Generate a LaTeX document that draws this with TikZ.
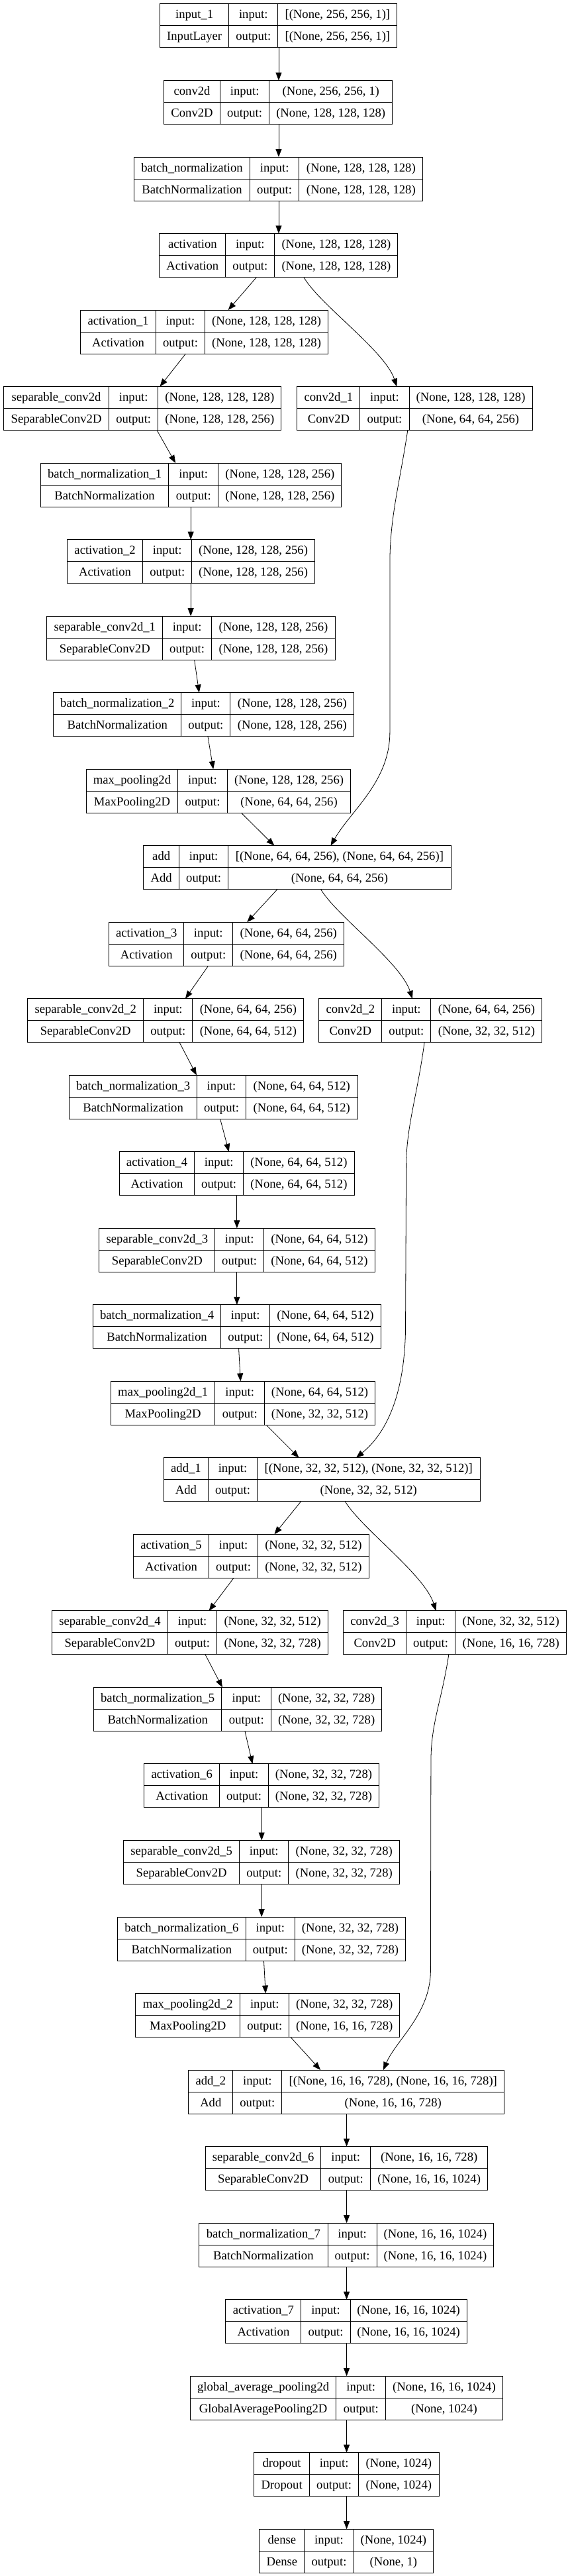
\documentclass[tikz,border=0pt]{standalone}
\usepackage{fontspec}
\setmainfont{Liberation Serif}
\usetikzlibrary{arrows.meta,fit}
\tikzset{
 kframe/.style={draw, line width=1pt, inner sep=0pt, outer sep=0pt},
 kline/.style={line width=1pt},
 ktxt/.style={anchor=base, inner sep=0pt, font=\fontsize{18.67}{22}\selectfont},
 conn/.style={line width=0.8pt, -{Triangle[length=12pt,width=9pt]}},
}
\newcommand\kbox[6]{%
  \pgfmathsetmacro\kT{6+115.52*#2}%
  \pgfmathsetmacro\kM{\kT+33}%
  \pgfmathsetmacro\kB{\kT+66}%
  \node[kframe, fit={(#3,\kT) (#6,\kB)}] (#1) {};%
  \draw[kline] (#3,\kM) -- (#6,\kM);%
  \draw[kline] (#4,\kT) -- (#4,\kB);%
  \draw[kline] (#5,\kT) -- (#5,\kB);%
  \def\kn{#1}\def\kx{#3}\def\ka{#4}\def\kb{#5}\def\kr{#6}%
}
\newcommand\ktext[4]{%
  \node[ktxt] (\kn-lab) at ({(\kx+\ka)/2},{\kT+22}) {#1};%
  \node[ktxt] (\kn-cls) at ({(\kx+\ka)/2},{\kT+55}) {#2};%
  \node[ktxt] (\kn-i) at ({(\ka+\kb)/2},{\kT+22}) {input:};%
  \node[ktxt] (\kn-o) at ({(\ka+\kb)/2},{\kT+55}) {output:};%
  \node[ktxt] (\kn-is) at ({(\kb+\kr)/2},{\kT+22}) {#3};%
  \node[ktxt] (\kn-os) at ({(\kb+\kr)/2},{\kT+55}) {#4};%
}
\begin{document}
\begin{tikzpicture}[x={(0.54885pt,0pt)}, y={(0pt,-1pt)}]
\useasboundingbox (0,0) rectangle (1567,3889);

\kbox{in1}{0}{440}{630}{765}{1093}\ktext{input\_1}{InputLayer}{[(None, 256, 256, 1)]}{[(None, 256, 256, 1)]}
\kbox{cv0}{1}{451}{606}{741}{1080}\ktext{conv2d}{Conv2D}{(None, 256, 256, 1)}{(None, 128, 128, 128)}
\kbox{bn0}{2}{369}{688}{823}{1164}\ktext{batch\_normalization}{BatchNormalization}{(None, 128, 128, 128)}{(None, 128, 128, 128)}
\kbox{ac0}{3}{439}{621}{756}{1095}\ktext{activation}{Activation}{(None, 128, 128, 128)}{(None, 128, 128, 128)}
\kbox{ac1}{4}{222}{429}{564}{903}\ktext{activation\_1}{Activation}{(None, 128, 128, 128)}{(None, 128, 128, 128)}
\kbox{sc0}{5}{10}{300}{435}{774}\ktext{separable\_conv2d}{SeparableConv2D}{(None, 128, 128, 128)}{(None, 128, 128, 256)}
\kbox{cv1}{5}{818}{991}{1126}{1465}\ktext{conv2d\_1}{Conv2D}{(None, 128, 128, 128)}{(None, 64, 64, 256)}
\kbox{bn1}{6}{112}{464}{601}{940}\ktext{batch\_normalization\_1}{BatchNormalization}{(None, 128, 128, 256)}{(None, 128, 128, 256)}
\kbox{ac2}{7}{185}{393}{528}{866}\ktext{activation\_2}{Activation}{(None, 128, 128, 256)}{(None, 128, 128, 256)}
\kbox{sc1}{8}{129}{448}{582}{923}\ktext{separable\_conv2d\_1}{SeparableConv2D}{(None, 128, 128, 256)}{(None, 128, 128, 256)}
\kbox{bn2}{9}{147}{499}{634}{974}\ktext{batch\_normalization\_2}{BatchNormalization}{(None, 128, 128, 256)}{(None, 128, 128, 256)}
\kbox{mp0}{10}{238}{489}{626}{965}\ktext{max\_pooling2d}{MaxPooling2D}{(None, 128, 128, 256)}{(None, 64, 64, 256)}
\kbox{ad0}{11}{395}{493}{628}{1241}\ktext{add}{Add}{[(None, 64, 64, 256), (None, 64, 64, 256)]}{(None, 64, 64, 256)}
\kbox{ac3}{12}{300}{506}{641}{947}\ktext{activation\_3}{Activation}{(None, 64, 64, 256)}{(None, 64, 64, 256)}
\kbox{sc2}{13}{76}{395}{530}{836}\ktext{separable\_conv2d\_2}{SeparableConv2D}{(None, 64, 64, 256)}{(None, 64, 64, 512)}
\kbox{cv2}{13}{878}{1051}{1186}{1492}\ktext{conv2d\_2}{Conv2D}{(None, 64, 64, 256)}{(None, 32, 32, 512)}
\kbox{bn3}{14}{191}{542}{677}{984}\ktext{batch\_normalization\_3}{BatchNormalization}{(None, 64, 64, 512)}{(None, 64, 64, 512)}
\kbox{ac4}{15}{329}{535}{670}{975}\ktext{activation\_4}{Activation}{(None, 64, 64, 512)}{(None, 64, 64, 512)}
\kbox{sc3}{16}{273}{592}{726}{1032}\ktext{separable\_conv2d\_3}{SeparableConv2D}{(None, 64, 64, 512)}{(None, 64, 64, 512)}
\kbox{bn4}{17}{256}{608}{743}{1048}\ktext{batch\_normalization\_4}{BatchNormalization}{(None, 64, 64, 512)}{(None, 64, 64, 512)}
\kbox{mp1}{18}{305}{592}{728}{1032}\ktext{max\_pooling2d\_1}{MaxPooling2D}{(None, 64, 64, 512)}{(None, 32, 32, 512)}
\kbox{ad1}{19}{451}{573}{708}{1321}\ktext{add\_1}{Add}{[(None, 32, 32, 512), (None, 32, 32, 512)]}{(None, 32, 32, 512)}
\kbox{ac5}{20}{367}{575}{710}{1015}\ktext{activation\_5}{Activation}{(None, 32, 32, 512)}{(None, 32, 32, 512)}
\kbox{sc4}{21}{143}{462}{597}{903}\ktext{separable\_conv2d\_4}{SeparableConv2D}{(None, 32, 32, 512)}{(None, 32, 32, 728)}
\kbox{cv3}{21}{945}{1118}{1253}{1559}\ktext{conv2d\_3}{Conv2D}{(None, 32, 32, 512)}{(None, 16, 16, 728)}
\kbox{bn5}{22}{258}{610}{747}{1050}\ktext{batch\_normalization\_5}{BatchNormalization}{(None, 32, 32, 728)}{(None, 32, 32, 728)}
\kbox{ac6}{23}{397}{604}{739}{1043}\ktext{activation\_6}{Activation}{(None, 32, 32, 728)}{(None, 32, 32, 728)}
\kbox{sc5}{24}{340}{659}{794}{1100}\ktext{separable\_conv2d\_5}{SeparableConv2D}{(None, 32, 32, 728)}{(None, 32, 32, 728)}
\kbox{bn6}{25}{324}{676}{812}{1116}\ktext{batch\_normalization\_6}{BatchNormalization}{(None, 32, 32, 728)}{(None, 32, 32, 728)}
\kbox{mp2}{26}{373}{661}{796}{1100}\ktext{max\_pooling2d\_2}{MaxPooling2D}{(None, 32, 32, 728)}{(None, 16, 16, 728)}
\kbox{ad2}{27}{519}{641}{776}{1388}\ktext{add\_2}{Add}{[(None, 16, 16, 728), (None, 16, 16, 728)]}{(None, 16, 16, 728)}
\kbox{sc6}{28}{566}{883}{1020}{1342}\ktext{separable\_conv2d\_6}{SeparableConv2D}{(None, 16, 16, 728)}{(None, 16, 16, 1024)}
\kbox{bn7}{29}{548}{902}{1037}{1359}\ktext{batch\_normalization\_7}{BatchNormalization}{(None, 16, 16, 1024)}{(None, 16, 16, 1024)}
\kbox{ac7}{30}{621}{829}{964}{1285}\ktext{activation\_7}{Activation}{(None, 16, 16, 1024)}{(None, 16, 16, 1024)}
\kbox{gap}{31}{524}{925}{1062}{1383}\ktext{global\_average\_pooling2d}{GlobalAveragePooling2D}{(None, 16, 16, 1024)}{(None, 1024)}
\kbox{drp}{32}{699}{852}{987}{1208}\ktext{dropout}{Dropout}{(None, 1024)}{(None, 1024)}
\kbox{dns}{33}{714}{838}{973}{1193}\ktext{dense}{Dense}{(None, 1024)}{(None, 1)}

% connectors
\draw[conn] (in1.south -| 767,0) -- (cv0.north -| 767,0);
\draw[conn] (cv0.south -| 767,0) -- (bn0.north -| 767,0);
\draw[conn] (bn0.south -| 767,0) -- (ac0.north -| 767,0);
\draw[conn] (ac0.south -| 706,0) -- (ac1.north -| 628,0);
\draw[conn] (ac0.south -| 836,0) .. controls (880,460) and (1060,530) .. (cv1.north -| 1092,0);
\draw[conn] (ac1.south -| 511,0) -- (sc0.north -| 440,0);
\draw[conn] (sc0.south -| 432,0) -- (bn1.north -| 483,0);
\draw[conn] (bn1.south -| 525,0) -- (ac2.north -| 525,0);
\draw[conn] (ac2.south -| 525,0) -- (sc1.north -| 525,0);
\draw[conn] (sc1.south -| 535,0) -- (bn2.north -| 548,0);
\draw[conn] (bn2.south -| 572,0) -- (mp0.north -| 587,0);
\draw[conn] (mp0.south -| 664,0) -- (ad0.north -| 755,0);
\draw[conn] (cv1.south -| 1122,0) .. controls (1100,730) and (1073,780) .. (1073,850) -- (1073,1105) .. controls (1073,1180) and (968,1222) .. (ad0.north -| 910,0);
\draw[conn] (ad0.south -| 763,0) -- (ac3.north -| 680,0);
\draw[conn] (ad0.south -| 883,0) .. controls (927,1383) and (1103,1453) .. (cv2.north -| 1135,0);
\draw[conn] (ac3.south -| 573,0) -- (sc2.north -| 510,0);
\draw[conn] (sc2.south -| 494,0) -- (bn3.north -| 541,0);
\draw[conn] (bn3.south -| 606,0) -- (ac4.north -| 630,0);
\draw[conn] (ac4.south -| 652,0) -- (sc3.north -| 652,0);
\draw[conn] (sc3.south -| 652,0) -- (bn4.north -| 652,0);
\draw[conn] (bn4.south -| 657,0) -- (mp1.north -| 662,0);
\draw[conn] (mp1.south -| 733,0) -- (ad1.north -| 823,0);
\draw[conn] (cv2.south -| 1168,0) .. controls (1150,1650) and (1118,1700) .. (1118,1760) -- (1116,2010) .. controls (1112,2110) and (1060,2165) .. (ad1.north -| 980,0);
\draw[conn] (ad1.south -| 828,0) -- (ac5.north -| 755,0);
\draw[conn] (ad1.south -| 950,0) .. controls (994,2307) and (1168,2377) .. (cv3.north -| 1200,0);
\draw[conn] (ac5.south -| 643,0) -- (sc4.north -| 575,0);
\draw[conn] (sc4.south -| 565,0) -- (bn5.north -| 612,0);
\draw[conn] (bn5.south -| 674,0) -- (ac6.north -| 695,0);
\draw[conn] (ac6.south -| 720,0) -- (sc5.north -| 720,0);
\draw[conn] (sc5.south -| 720,0) -- (bn6.north -| 720,0);
\draw[conn] (bn6.south -| 726,0) -- (mp2.north -| 731,0);
\draw[conn] (mp2.south -| 800,0) -- (ad2.north -| 882,0);
\draw[conn] (cv3.south -| 1235,0) .. controls (1215,2570) and (1186,2600) .. (1186,2660) -- (1185,2975) .. controls (1185,3040) and (1090,3080) .. (ad2.north -| 1055,0);
\draw[conn] (ad2.south -| 954,0) -- (sc6.north -| 954,0);
\draw[conn] (sc6.south -| 954,0) -- (bn7.north -| 954,0);
\draw[conn] (bn7.south -| 954,0) -- (ac7.north -| 954,0);
\draw[conn] (ac7.south -| 954,0) -- (gap.north -| 954,0);
\draw[conn] (gap.south -| 954,0) -- (drp.north -| 954,0);
\draw[conn] (drp.south -| 954,0) -- (dns.north -| 954,0);
\end{tikzpicture}
\end{document}
